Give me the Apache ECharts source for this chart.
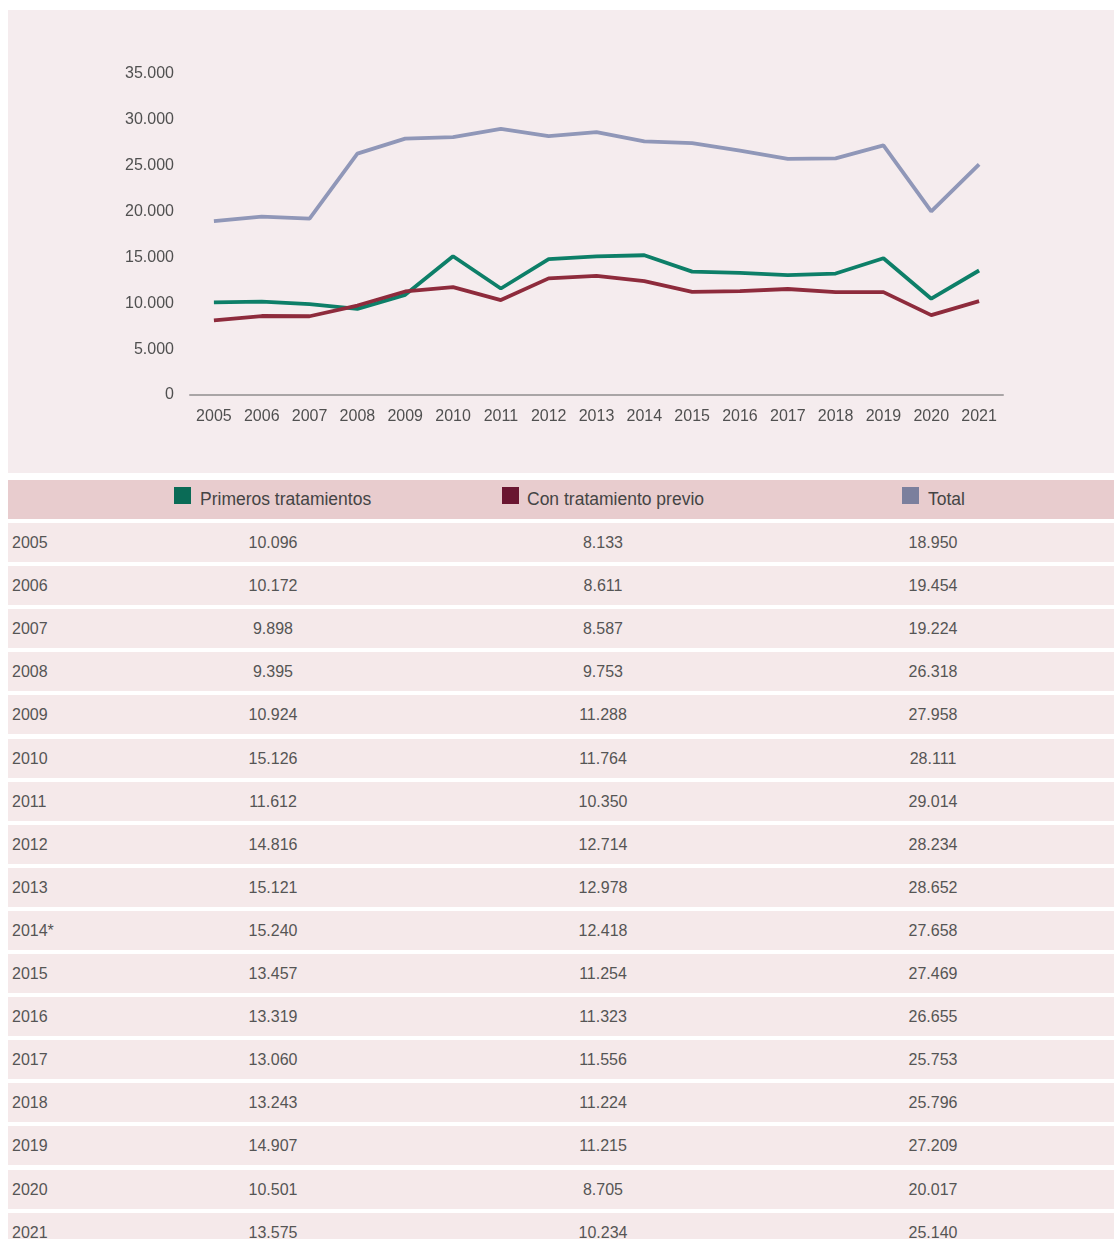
<!DOCTYPE html>
<html>
<head>
<meta charset="utf-8">
<script src="https://cdn.jsdelivr.net/npm/echarts@6/dist/echarts.min.js"></script>
<style>
  html, body { margin: 0; padding: 0; background: #ffffff; }
  body { width: 1114px; height: 1239px; overflow: hidden; position: relative;
         font-family: "Liberation Sans", Arial, Helvetica, sans-serif; }
  #chart { position: absolute; left: 8px; top: 10px; width: 1106px; height: 463px; background: #f5ecee; }
  .hdr { position: absolute; left: 8px; top: 480px; width: 1106px; height: 39px; background: #e8ccce; }
  .row { position: absolute; left: 8px; width: 1106px; height: 39px; background: #f5e9ea; }
  .cell { position: absolute; top: 0; height: 39px; line-height: 40px; font-size: 16px; color: #555555; white-space: nowrap; }
  .num { width: 200px; text-align: center; }
  .sq { position: absolute; top: 7px; width: 17px; height: 17px; }
  .htxt { position: absolute; top: 0; height: 39px; line-height: 39px; font-size: 17.5px; color: #444444; white-space: nowrap; }
</style>
</head>
<body>
<div id="chart"></div>
<div id="table"></div>
<script>
// ---- data ----
var years = ['2005','2006','2007','2008','2009','2010','2011','2012','2013','2014','2015','2016','2017','2018','2019','2020','2021'];
var tableYears = ['2005','2006','2007','2008','2009','2010','2011','2012','2013','2014*','2015','2016','2017','2018','2019','2020','2021'];
var primeros = [10096, 10172, 9898, 9395, 10924, 15126, 11612, 14816, 15121, 15240, 13457, 13319, 13060, 13243, 14907, 10501, 13575];
var previo   = [8133, 8611, 8587, 9753, 11288, 11764, 10350, 12714, 12978, 12418, 11254, 11323, 11556, 11224, 11215, 8705, 10234];
var total    = [18950, 19454, 19224, 26318, 27958, 28111, 29014, 28234, 28652, 27658, 27469, 26655, 25753, 25796, 27209, 20017, 25140];
var seriesNames = ['Primeros tratamientos', 'Con tratamiento previo', 'Total'];
var yTicks = [0, 5000, 10000, 15000, 20000, 25000, 30000, 35000];

function fmt(v) {
  var s = String(Math.round(v));
  var out = '';
  while (s.length > 3) { out = '.' + s.slice(-3) + out; s = s.slice(0, -3); }
  return s + out;
}

(function () {
  // ---- chart ----
  var chart = echarts.init(document.getElementById('chart'), null, { renderer: 'canvas' });
  var axisTextColor = '#505050';
  chart.setOption({
    animation: false,
    backgroundColor: '#f5ecee',
    grid: { left: 182, right: 111, top: 64, bottom: 78 },
    xAxis: {
      type: 'category',
      data: years,
      boundaryGap: true,
      axisLine: { lineStyle: { color: '#a9a5a6', width: 2 } },
      axisTick: { show: false },
      axisLabel: { color: axisTextColor, fontSize: 16, margin: 14, fontFamily: 'Liberation Sans, Arial, sans-serif' }
    },
    yAxis: {
      type: 'value',
      min: yTicks[0],
      max: yTicks[yTicks.length - 1],
      interval: 5000,
      axisLine: { show: false },
      axisTick: { show: false },
      splitLine: { show: false },
      axisLabel: { color: axisTextColor, fontSize: 16, margin: 16, formatter: fmt, fontFamily: 'Liberation Sans, Arial, sans-serif' }
    },
    series: [
      { name: seriesNames[2], type: 'line', data: total, symbol: 'none',
        lineStyle: { color: '#9097b8', width: 3.8 }, itemStyle: { color: '#9097b8' } },
      { name: seriesNames[0], type: 'line', data: primeros, symbol: 'none',
        lineStyle: { color: '#0d7f68', width: 3.8 }, itemStyle: { color: '#0d7f68' } },
      { name: seriesNames[1], type: 'line', data: previo, symbol: 'none',
        lineStyle: { color: '#8e2b3c', width: 3.8 }, itemStyle: { color: '#8e2b3c' } }
    ]
  });

  // ---- table ----
  var legendColors = ['#0a6b56', '#6a1631', '#7b7f9d'];
  var sqLeft = [166, 494, 894];
  var txtLeft = [192, 519, 920];
  var colCenter = [265, 595, 925];
  var html = '<div class="hdr">';
  for (var k = 0; k < 3; k++) {
    html += '<div class="sq" style="left:' + sqLeft[k] + 'px;background:' + legendColors[k] + '"></div>';
    html += '<div class="htxt" style="left:' + txtLeft[k] + 'px">' + seriesNames[k] + '</div>';
  }
  html += '</div>';
  var cols = [primeros, previo, total];
  for (var i = 0; i < tableYears.length; i++) {
    var rowTop = 523 + 43.1 * i;
    html += '<div class="row" style="top:' + rowTop.toFixed(1) + 'px">';
    html += '<div class="cell" style="left:4px">' + tableYears[i] + '</div>';
    for (var c = 0; c < 3; c++) {
      html += '<div class="cell num" style="left:' + (colCenter[c] - 100) + 'px">' + fmt(cols[c][i]) + '</div>';
    }
    html += '</div>';
  }
  document.getElementById('table').innerHTML = html;
})();
</script>
</body>
</html>
